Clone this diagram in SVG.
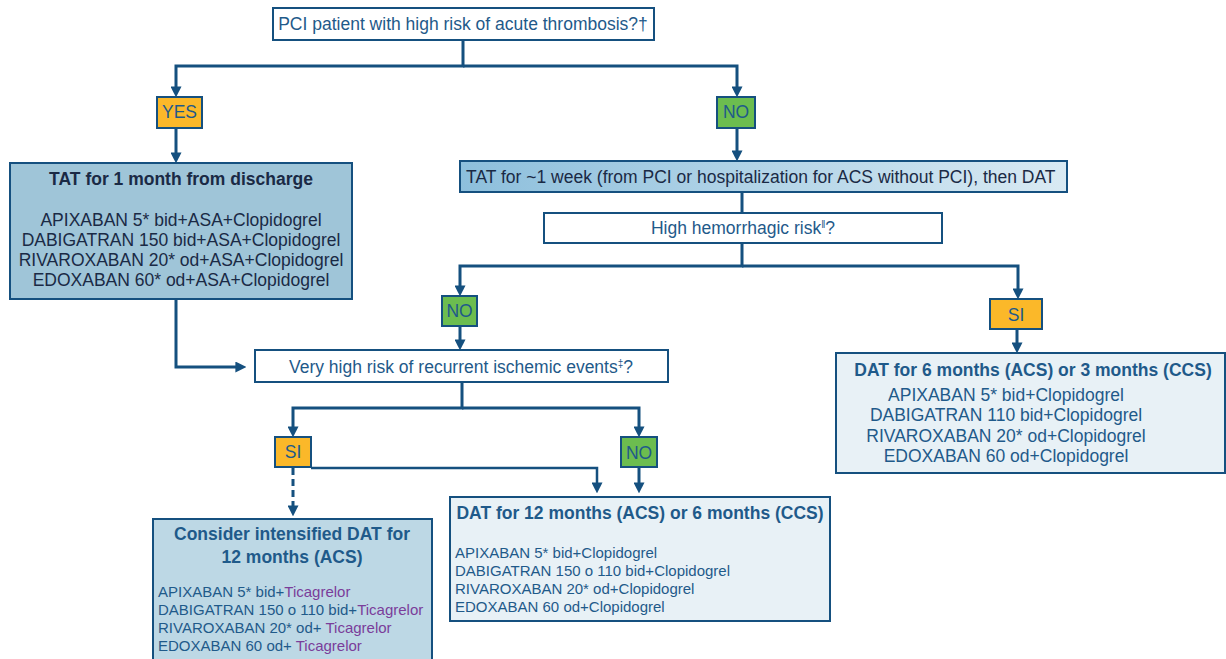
<svg xmlns="http://www.w3.org/2000/svg" width="1226" height="659" viewBox="0 0 1226 659">
<defs>
<linearGradient id="gWeek" x1="0" y1="0" x2="1" y2="0">
<stop offset="0" stop-color="#8dbfdc"/>
<stop offset="1" stop-color="#d9eaf3"/>
</linearGradient>
<marker id="arr" viewBox="0 0 10 10" refX="6" refY="5" markerWidth="11" markerHeight="11" markerUnits="userSpaceOnUse" orient="auto">
<path d="M0,0 L10,5 L0,10 z" fill="#15507f"/>
</marker>
<style>
.box{stroke:#15507f;stroke-width:2}
.q{fill:#ffffff}
.yes{fill:#fbb829}
.no{fill:#6cbd4f}
.t{font-family:"Liberation Sans",Arial,sans-serif;font-size:17.5px;fill:#1f5a8a}
.d{fill:#1a2a45}
.b{font-weight:bold}
.s{font-size:15px}
.p{fill:#7a3d9a}
.c{fill:none;stroke:#15507f;stroke-width:3}
</style>
</defs>
<rect width="1226" height="659" fill="#ffffff"/>
<g id="connectors">
<path class="c" d="M463,40 V66 H176 V93" marker-end="url(#arr)"/>
<path class="c" d="M463,66 H737 V93" marker-end="url(#arr)"/>
<path class="c" d="M176,128 V159" marker-end="url(#arr)"/>
<path class="c" d="M737,128 V157" marker-end="url(#arr)"/>
<path class="c" d="M742,192 V213"/>
<path class="c" d="M742,243 V266 H460 V292" marker-end="url(#arr)"/>
<path class="c" d="M742,266 H1018 V295" marker-end="url(#arr)"/>
<path class="c" d="M460,326 V346" marker-end="url(#arr)"/>
<path class="c" d="M1017,329 V349" marker-end="url(#arr)"/>
<path class="c" d="M176,299 V367 H242" marker-end="url(#arr)"/>
<path class="c" d="M462,382 V408 H293 V433" marker-end="url(#arr)"/>
<path class="c" d="M462,408 H639 V433" marker-end="url(#arr)"/>
<path class="c" style="stroke-width:2.5" d="M311,468 H597 V489" marker-end="url(#arr)"/>
<path class="c" d="M639,467 V489" marker-end="url(#arr)"/>
<path class="c" style="stroke-dasharray:7,4" d="M293,468 V512" marker-end="url(#arr)"/>
</g>
<g id="q1">
<rect class="box q" x="273" y="8" width="381" height="32"/>
<text class="t" x="463" y="30" text-anchor="middle">PCI patient with high risk of acute thrombosis?†</text>
</g>
<g id="yes1">
<rect class="box yes" x="157" y="97" width="45" height="31"/>
<text class="t" x="179.5" y="118" text-anchor="middle">YES</text>
</g>
<g id="no1">
<rect class="box no" x="717" y="97" width="38" height="31"/>
<text class="t" x="736" y="118" text-anchor="middle">NO</text>
</g>
<g id="tat1month">
<rect class="box" x="10" y="163" width="342" height="136" fill="#9fc5d8"/>
<text class="t d b" x="181" y="185" text-anchor="middle">TAT for 1 month from discharge</text>
<text class="t d" x="181" y="226" text-anchor="middle">APIXABAN 5* bid+ASA+Clopidogrel</text>
<text class="t d" x="181" y="246" text-anchor="middle">DABIGATRAN 150 bid+ASA+Clopidogrel</text>
<text class="t d" x="181" y="266" text-anchor="middle">RIVAROXABAN 20* od+ASA+Clopidogrel</text>
<text class="t d" x="181" y="286" text-anchor="middle">EDOXABAN 60* od+ASA+Clopidogrel</text>
</g>
<g id="tatweek">
<rect class="box" x="460" y="161" width="607" height="31" fill="url(#gWeek)"/>
<text class="t d" x="466" y="183">TAT for ~1 week (from PCI or hospitalization for ACS without PCI), then DAT</text>
</g>
<g id="q2">
<rect class="box q" x="544" y="213" width="398" height="30"/>
<text class="t" x="743" y="234" text-anchor="middle">High hemorrhagic risk<tspan font-size="10" dy="-6">ǁ</tspan><tspan dy="6">?</tspan></text>
</g>
<g id="no2">
<rect class="box no" x="442" y="296" width="35" height="30"/>
<text class="t" x="459.5" y="317" text-anchor="middle">NO</text>
</g>
<g id="si1">
<rect class="box yes" x="990" y="299" width="52" height="30"/>
<text class="t" x="1016" y="321" text-anchor="middle">SI</text>
</g>
<g id="dat6">
<rect class="box" x="836" y="353" width="389" height="120" fill="#e8f1f6"/>
<text class="t b" x="1033" y="376" text-anchor="middle">DAT for 6 months (ACS) or 3 months (CCS)</text>
<text class="t" x="1006" y="401" text-anchor="middle">APIXABAN 5* bid+Clopidogrel</text>
<text class="t" x="1006" y="421" text-anchor="middle">DABIGATRAN 110 bid+Clopidogrel</text>
<text class="t" x="1006" y="442" text-anchor="middle">RIVAROXABAN 20* od+Clopidogrel</text>
<text class="t" x="1006" y="462" text-anchor="middle">EDOXABAN 60 od+Clopidogrel</text>
</g>
<g id="q3">
<rect class="box q" x="255" y="350" width="413" height="32"/>
<text class="t" x="461" y="373" text-anchor="middle">Very high risk of recurrent ischemic events<tspan font-size="10" dy="-6">‡</tspan><tspan dy="6">?</tspan></text>
</g>
<g id="si2">
<rect class="box yes" x="275" y="437" width="36" height="30"/>
<text class="t" x="293" y="458" text-anchor="middle">SI</text>
</g>
<g id="no3">
<rect class="box no" x="621" y="437" width="36" height="30"/>
<text class="t" x="639" y="459" text-anchor="middle">NO</text>
</g>
<g id="consider">
<rect class="box" x="153" y="519" width="279" height="145" fill="#bdd8e5"/>
<text class="t b" x="292" y="540" text-anchor="middle">Consider intensified DAT for</text>
<text class="t b" x="292" y="563" text-anchor="middle">12 months (ACS)</text>
<text class="t s" x="158" y="597">APIXABAN 5* bid+<tspan class="p">Ticagrelor</tspan></text>
<text class="t s" x="158" y="615">DABIGATRAN 150 o 110 bid+<tspan class="p">Ticagrelor</tspan></text>
<text class="t s" x="158" y="633">RIVAROXABAN 20* od+ <tspan class="p">Ticagrelor</tspan></text>
<text class="t s" x="158" y="651">EDOXABAN 60 od+ <tspan class="p">Ticagrelor</tspan></text>
</g>
<g id="dat12">
<rect class="box" x="450" y="497" width="380" height="124" fill="#e8f1f6"/>
<text class="t b" x="640" y="519" text-anchor="middle">DAT for 12 months (ACS) or 6 months (CCS)</text>
<text class="t s" x="455" y="558">APIXABAN 5* bid+Clopidogrel</text>
<text class="t s" x="455" y="576">DABIGATRAN 150 o 110 bid+Clopidogrel</text>
<text class="t s" x="455" y="594">RIVAROXABAN 20* od+Clopidogrel</text>
<text class="t s" x="455" y="612">EDOXABAN 60 od+Clopidogrel</text>
</g>
</svg>
